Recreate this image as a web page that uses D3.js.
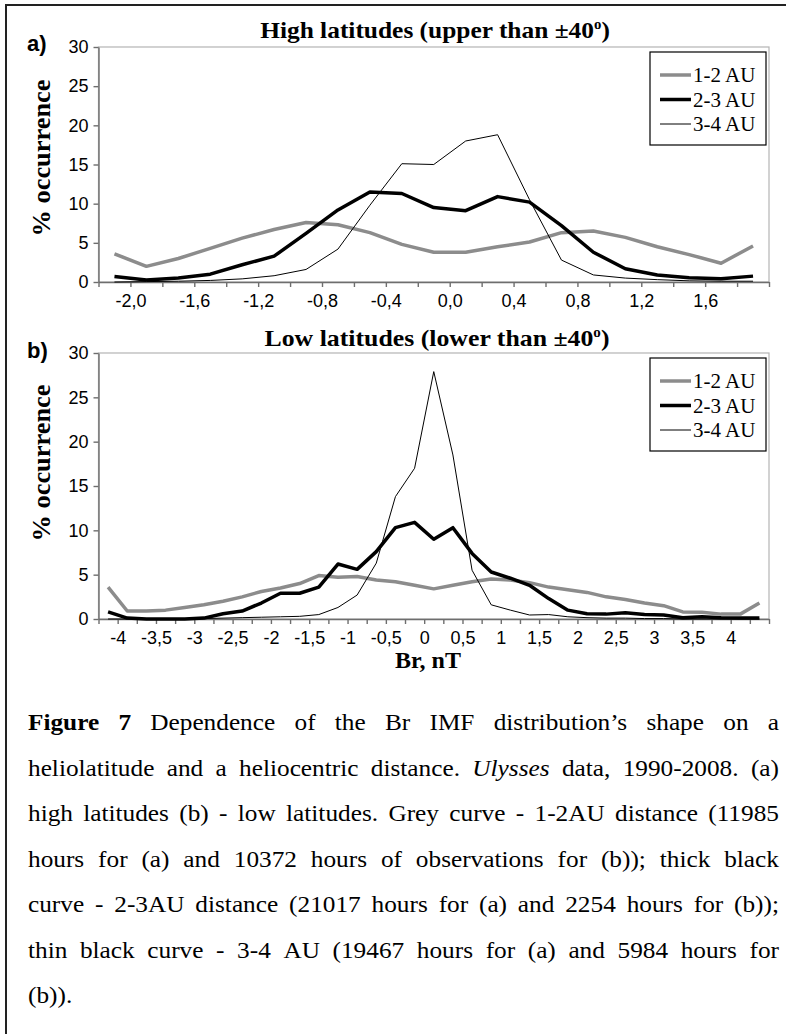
<!DOCTYPE html>
<html>
<head>
<meta charset="utf-8">
<script src="https://cdn.jsdelivr.net/npm/d3@7"></script>
<style>
body { margin: 0; background: #fff; }
</style>
</head>
<body>
<svg class="fig"></svg>
<script>
let width = 786,
  height = 1034;

// a) high latitudes, bins of 0.2 nT
const xHigh = [-2.1, -1.9, -1.7, -1.5, -1.3, -1.1, -0.9, -0.7, -0.5, -0.3, -0.1,
  0.1, 0.3, 0.5, 0.7, 0.9, 1.1, 1.3, 1.5, 1.7, 1.9];
const high12 = [3.6, 2.0, 3.0, 4.3, 5.6, 6.7, 7.6, 7.3, 6.3, 4.8, 3.8,
  3.8, 4.5, 5.1, 6.3, 6.5, 5.7, 4.5, 3.5, 2.4, 4.6];
const high23 = [0.7, 0.25, 0.5, 1.0, 2.2, 3.3, 6.2, 9.2, 11.5, 11.3, 9.5,
  9.1, 10.9, 10.2, 7.2, 3.8, 1.7, 0.9, 0.55, 0.4, 0.75];
const high34 = [0.0, 0.05, 0.1, 0.2, 0.4, 0.8, 1.6, 4.2, 9.8, 15.1, 15.0,
  18.0, 18.8, 10.5, 2.8, 0.9, 0.5, 0.3, 0.15, 0.1, 0.1];
const highLabels = [-2.0, -1.6, -1.2, -0.8, -0.4, 0.0, 0.4, 0.8, 1.2, 1.6];

// b) low latitudes, bins of 0.25 nT
const xLow = [-4.125, -3.875, -3.625, -3.375, -3.125, -2.875, -2.625, -2.375, -2.125,
  -1.875, -1.625, -1.375, -1.125, -0.875, -0.625, -0.375, -0.125, 0.125, 0.375,
  0.625, 0.875, 1.125, 1.375, 1.625, 1.875, 2.125, 2.375, 2.625, 2.875, 3.125,
  3.375, 3.625, 3.875, 4.125, 4.375];
const low12 = [3.6, 0.9, 0.9, 1.0, 1.3, 1.6, 2.0, 2.5, 3.1, 3.5, 4.0, 4.9, 4.7, 4.8,
  4.4, 4.2, 3.8, 3.4, 3.8, 4.2, 4.5, 4.4, 4.1, 3.6, 3.3, 3.0, 2.5, 2.2, 1.8, 1.5,
  0.8, 0.75, 0.55, 0.55, 1.8];
const low23 = [0.8, 0.1, 0, 0, 0, 0.1, 0.6, 0.9, 1.8, 2.9, 2.9, 3.6, 6.2, 5.6, 7.6,
  10.3, 10.9, 9.0, 10.3, 7.4, 5.3, 4.6, 3.8, 2.3, 1.0, 0.6, 0.55, 0.7, 0.5, 0.45,
  0.15, 0.25, 0.15, 0.1, 0.1];
const low34 = [0, 0, 0, 0, 0, 0.05, 0.1, 0.15, 0.2, 0.25, 0.3, 0.5, 1.3, 2.7, 6.3,
  13.8, 17.0, 27.9, 18.5, 5.5, 1.6, 1.0, 0.45, 0.5, 0.25, 0.15, 0.1, 0.1, 0.05,
  0.05, 0, 0, 0, 0, 0];
const lowLabels = [-4, -3.5, -3, -2.5, -2, -1.5, -1, -0.5, 0, 0.5, 1, 1.5, 2, 2.5,
  3, 3.5, 4];

const yTicks = [0, 5, 10, 15, 20, 25, 30];
const seriesNames = ["1-2 AU", "2-3 AU", "3-4 AU"];

const caption = [
  ["*Figure", "*7", "Dependence", "of", "the", "Br", "IMF", "distribution’s", "shape", "on", "a"],
  ["heliolatitude", "and", "a", "heliocentric", "distance.", "_Ulysses", "data,", "1990-2008.", "(a)"],
  ["high", "latitudes", "(b)", "-", "low", "latitudes.", "Grey", "curve", "-", "1-2AU", "distance", "(11985"],
  ["hours", "for", "(a)", "and", "10372", "hours", "of", "observations", "for", "(b));", "thick", "black"],
  ["curve", "-", "2-3AU", "distance", "(21017", "hours", "for", "(a)", "and", "2254", "hours", "for", "(b));"],
  ["thin", "black", "curve", "-", "3-4", "AU", "(19467", "hours", "for", "(a)", "and", "5984", "hours", "for"],
  ["(b))."]
];

const serif = "'Liberation Serif', 'Times New Roman', serif";
const sans = "'Liberation Sans', Arial, sans-serif";
const styles = [
  { color: "#8c8c8c", w: 3.5 },
  { color: "#000", w: 3.5 },
  { color: "#000", w: 1 }
];

let svg = d3.select(".fig").attr("width", width).attr("height", height);
svg.append("rect").attr("width", width).attr("height", height).attr("fill", "#fff");

// frame of the figure (cut on right/bottom)
svg.append("path")
  .attr("d", `M6,${height} V5 H${width}`)
  .attr("fill", "none").attr("stroke", "#222").attr("stroke-width", 2);

function fitX(sel, cx, cy, target, rotate) {
  let w = sel.node().getComputedTextLength();
  let k = target / w;
  sel.attr("transform", `translate(${cx},${cy})` + (rotate ? " rotate(-90)" : "") + ` scale(${k},1)`);
}

function panel(cfg) {
  let x = d3.scaleLinear().domain(cfg.xDomain).range([98.5, 769]);
  let y = d3.scaleLinear().domain([0, 30]).range([cfg.bottom, cfg.top]);
  let g = svg.append("g");

  // plot area border
  g.append("rect")
    .attr("x", 98.5).attr("y", cfg.top)
    .attr("width", 769 - 98.5).attr("height", cfg.bottom - cfg.top)
    .attr("fill", "none").attr("stroke", "#b4b4b4").attr("stroke-width", 1.2);

  // x axis: ticks
  let xa = g.append("g").attr("transform", `translate(0,${cfg.bottom})`)
    .call(d3.axisBottom(x).tickValues(cfg.ticks).tickSize(5).tickSizeOuter(0).tickFormat(""));
  // x axis: labels
  let xl = g.append("g").attr("transform", `translate(0,${cfg.bottom})`)
    .call(d3.axisBottom(x).tickValues(cfg.labels).tickSize(0).tickPadding(12).tickFormat(cfg.fmt));
  xl.select(".domain").remove();

  let ya = g.append("g").attr("transform", "translate(98.5,0)")
    .call(d3.axisLeft(y).tickValues(yTicks).tickSize(5).tickSizeOuter(0).tickPadding(5));

  [xa, ya].forEach(a => {
    a.selectAll("path,line").attr("stroke", "#6e6e6e").attr("stroke-width", 1.4);
  });
  [xl, ya].forEach(a => {
    a.selectAll("text").attr("font-family", sans).attr("font-size", 18).attr("fill", "#000");
  });

  // curves
  let line = d3.line().x(d => x(d[0])).y(d => y(d[1]));
  cfg.series.forEach((s, i) => {
    g.append("path")
      .datum(cfg.xs.map((v, j) => [v, s[j]]))
      .attr("d", line)
      .attr("fill", "none")
      .attr("stroke", styles[i].color)
      .attr("stroke-width", styles[i].w)
      .attr("stroke-linejoin", "round");
  });

  // legend
  let lg = g.append("g").attr("transform", `translate(650,${cfg.top + 5})`);
  lg.append("rect").attr("width", 116).attr("height", 93)
    .attr("fill", "#fff").attr("stroke", "#000").attr("stroke-width", 1.2);
  seriesNames.forEach((n, i) => {
    let yy = 23 + i * 24.5;
    lg.append("line").attr("x1", 10).attr("x2", 41).attr("y1", yy).attr("y2", yy)
      .attr("stroke", styles[i].color).attr("stroke-width", styles[i].w);
    lg.append("text").attr("x", 43).attr("y", yy).attr("dy", "0.35em")
      .attr("font-family", serif).attr("font-size", 21).text(n);
  });

  // title
  let t = g.append("text").attr("text-anchor", "middle")
    .attr("font-family", serif).attr("font-weight", "bold").attr("font-size", 24);
  t.append("tspan").text(cfg.title + " ±40");
  t.append("tspan").attr("font-size", 14).attr("dy", -9).text("o");
  t.append("tspan").attr("dy", 9).text(")");
  fitX(t, cfg.titleX, cfg.titleY, cfg.titleW, false);

  // panel letter
  g.append("text").attr("x", 27).attr("y", cfg.letterY)
    .attr("font-family", sans).attr("font-weight", "bold").attr("font-size", 22)
    .text(cfg.letter);

  // y title
  let yt = g.append("text").attr("text-anchor", "middle")
    .attr("font-family", serif).attr("font-weight", "bold").attr("font-size", 25)
    .text("% occurrence");
  fitX(yt, 50, cfg.yTitleY, 157, true);
}

panel({
  top: 47, bottom: 282,
  xDomain: [-2.2, 2.0],
  ticks: d3.range(0, 22).map(i => -2.2 + 0.2 * i),
  labels: highLabels,
  fmt: d => d.toFixed(1).replace(".", ","),
  xs: xHigh, series: [high12, high23, high34],
  title: "High latitudes (upper than", titleX: 435, titleY: 38, titleW: 350,
  letter: "a)", letterY: 51, yTitleY: 158
});

panel({
  top: 353, bottom: 619,
  xDomain: [-4.25, 4.5],
  ticks: d3.range(0, 36).map(i => -4.25 + 0.25 * i),
  labels: lowLabels,
  fmt: d => String(d).replace(".", ","),
  xs: xLow, series: [low12, low23, low34],
  title: "Low latitudes (lower than", titleX: 437, titleY: 346, titleW: 345,
  letter: "b)", letterY: 358, yTitleY: 463
});

// x title
svg.append("text").attr("x", 428).attr("y", 668).attr("text-anchor", "middle")
  .attr("font-family", serif).attr("font-weight", "bold").attr("font-size", 24)
  .text("Br, nT");

// caption, justified between x=28 and x=779
let capLeft = 28, capRight = 779, capSx = 1.1;
caption.forEach((words, li) => {
  let yy = 730 + li * 45.5;
  let nodes = words.map(w => {
    let t = svg.append("text").attr("y", 0)
      .attr("font-family", serif).attr("font-size", 23);
    if (w[0] === "*") { t.attr("font-weight", "bold"); w = w.slice(1); }
    if (w[0] === "_") { t.attr("font-style", "italic"); w = w.slice(1); }
    t.text(w);
    return t;
  });
  let raw = nodes.map(n => n.node().getComputedTextLength());
  let sum = d3.sum(raw);
  let last = li === caption.length - 1;
  let sx = capSx;
  let gap = 6;
  if (!last) {
    let avail = capRight - capLeft;
    if (sum * sx + 4 * (nodes.length - 1) > avail) sx = (avail - 4 * (nodes.length - 1)) / sum;
    gap = (avail - sum * sx) / (nodes.length - 1);
  }
  let xx = capLeft;
  nodes.forEach((n, i) => {
    n.attr("transform", `translate(${xx},${yy}) scale(${sx},1)`);
    xx += raw[i] * sx + gap;
  });
});
</script>
</body>
</html>
